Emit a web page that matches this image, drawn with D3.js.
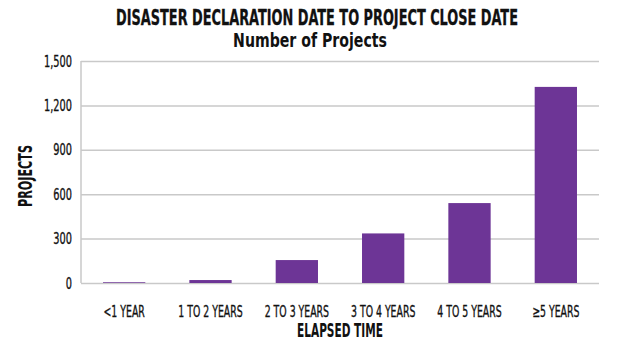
<!DOCTYPE html>
<html>
<head>
<meta charset="utf-8">
<script src="https://cdn.jsdelivr.net/npm/d3@7"></script>
<style>
  html, body { margin: 0; padding: 0; background: #fff; }
  svg { display: block; }
  text { font-family: "DejaVu Sans Condensed", "Liberation Sans Narrow", "Roboto", sans-serif; fill: #111; }
</style>
</head>
<body>
<svg id="chart" width="620" height="343"></svg>
<script>
const categories = ["<1 YEAR", "1 TO 2 YEARS", "2 TO 3 YEARS", "3 TO 4 YEARS", "4 TO 5 YEARS", "\u22655 YEARS"];
const projects = [5, 20, 155, 335, 540, 1325];
const yTicks = [0, 300, 600, 900, 1200, 1500];
const titleText = "DISASTER DECLARATION DATE TO PROJECT CLOSE DATE";
const subtitleText = "Number of Projects";
const xTitle = "ELAPSED TIME";
const yTitle = "PROJECTS";

const svg = d3.select("#chart");
const margin = { left: 81, right: 21, top: 61, bottom: 60 };
const W = 620, H = 343;

const x = d3.scaleBand().domain(categories).range([margin.left, W - margin.right]).paddingInner(0.51).paddingOuter(0.255);
const y = d3.scaleLinear().domain([0, 1500]).range([H - margin.bottom, margin.top]);

// horizontally compress text about its own anchor point
function squeeze(sel, f) {
  sel.each(function () {
    const t = d3.select(this);
    const x0 = +t.attr("x") || 0;
    t.attr("x", x0 / f).attr("transform", `scale(${f},1)`);
  });
}
// place a text centred at (cx, cy) compressed to a given width
function placeFit(sel, cx, cy, width, rot) {
  const len = sel.node().getComputedTextLength();
  const f = width / len;
  sel.attr("x", 0).attr("y", 0).attr("text-anchor", "middle")
    .attr("transform", `translate(${cx},${cy})${rot ? " rotate(" + rot + ")" : ""} scale(${f},1)`);
}

// gridlines
const grid = svg.append("g")
  .attr("transform", `translate(${margin.left},0)`)
  .call(d3.axisLeft(y).tickValues(yTicks).tickSize(-(W - margin.left - margin.right)).tickFormat(""));
grid.select(".domain").remove();
grid.selectAll("line").attr("stroke", "#c9c9c9").attr("stroke-width", 1.5);

// left axis line
svg.append("line")
  .attr("x1", margin.left).attr("x2", margin.left)
  .attr("y1", y(1500)).attr("y2", y(0))
  .attr("stroke", "#c9c9c9").attr("stroke-width", 1.5);

// y tick labels
const yAxis = svg.append("g")
  .attr("transform", `translate(${margin.left},0)`)
  .call(d3.axisLeft(y).tickValues(yTicks).tickSize(0).tickPadding(9).tickFormat(d3.format(",")));
yAxis.select(".domain").remove();
yAxis.selectAll("text").attr("font-size", 16).attr("fill", "#111").attr("font-family", null)
  .attr("stroke", "#111").attr("stroke-width", 0.35);
squeeze(yAxis.selectAll("text"), 0.68);

// bars
svg.append("g").selectAll("rect")
  .data(projects)
  .join("rect")
  .attr("x", (d, i) => x(categories[i]))
  .attr("width", x.bandwidth())
  .attr("y", d => y(d))
  .attr("height", d => y(0) - y(d))
  .attr("fill", "#6d3596");

// x tick labels
const xAxis = svg.append("g")
  .attr("transform", `translate(0,${y(0)})`)
  .call(d3.axisBottom(x).tickSize(0).tickPadding(23));
xAxis.select(".domain").remove();
xAxis.selectAll("text").attr("font-size", 16).attr("fill", "#111").attr("font-family", null)
  .attr("stroke", "#111").attr("stroke-width", 0.35);
squeeze(xAxis.selectAll("text"), 0.65);

// titles
const t1 = svg.append("text").attr("font-size", 21).attr("font-weight", "bold")
  .attr("stroke", "#111").attr("stroke-width", 0.3).text(titleText);
placeFit(t1, 317, 25, 402);
const t2 = svg.append("text").attr("font-size", 20).attr("font-weight", "bold").text(subtitleText);
placeFit(t2, 310, 47, 154);
const xt = svg.append("text").attr("font-size", 19).attr("font-weight", "bold").text(xTitle);
placeFit(xt, (margin.left + W - margin.right) / 2, 337, 86);
const yt = svg.append("text").attr("font-size", 19).attr("font-weight", "bold").text(yTitle);
placeFit(yt, 32, 176, 62, -90);
</script>
</body>
</html>
